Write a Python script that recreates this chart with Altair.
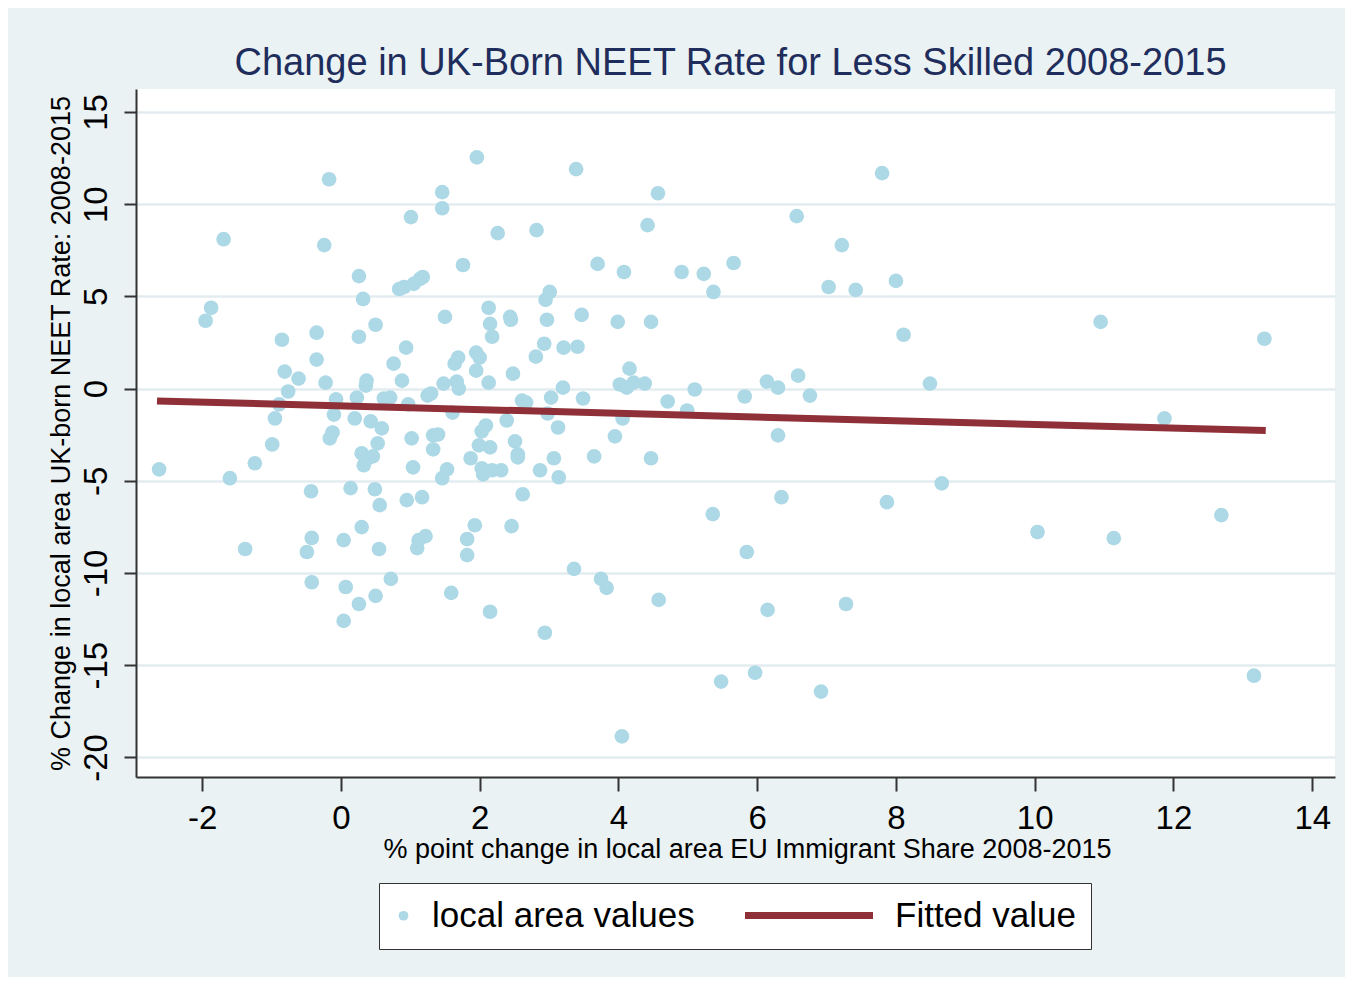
import altair as alt
import pandas as pd

# ---- data ----
x_vals = [
    -2.62, -1.95, -1.87, -1.69, -1.60, -1.38, -1.24, -0.99, -0.95, -0.89,
    -0.85, -0.81, -0.76, -0.61, -0.49, -0.43, -0.42, -0.42, -0.35, -0.35,
    -0.24, -0.22, -0.17, -0.16, -0.12, -0.10, -0.07, 0.04, 0.04, 0.07,
    0.14, 0.20, 0.23, 0.26, 0.26, 0.26, 0.30, 0.30, 0.32, 0.33,
    0.36, 0.37, 0.39, 0.43, 0.46, 0.49, 0.50, 0.50, 0.53, 0.55,
    0.56, 0.59, 0.62, 0.71, 0.72, 0.76, 0.84, 0.88, 0.91, 0.94,
    0.95, 0.97, 1.01, 1.02, 1.04, 1.05, 1.10, 1.12, 1.14, 1.17,
    1.18, 1.22, 1.25, 1.30, 1.33, 1.33, 1.40, 1.46, 1.46, 1.46,
    1.48, 1.50, 1.53, 1.59, 1.61, 1.64, 1.67, 1.69, 1.70, 1.76,
    1.82, 1.82, 1.87, 1.93, 1.95, 1.95, 1.96, 1.99, 2.00, 2.03,
    2.03, 2.05, 2.09, 2.13, 2.13, 2.15, 2.15, 2.18, 2.15, 2.18,
    2.26, 2.31, 2.39, 2.44, 2.45, 2.46, 2.48, 2.51, 2.55, 2.55,
    2.61, 2.62, 2.67, 2.82, 2.81, 2.87, 2.93, 2.94, 2.95, 2.97,
    2.98, 3.01, 3.03, 3.07, 3.13, 3.14, 3.20, 3.21, 3.36, 3.39,
    3.41, 3.47, 3.49, 3.65, 3.70, 3.75, 3.83, 3.95, 3.99, 4.02,
    4.05, 4.06, 4.08, 4.12, 4.16, 4.22, 4.38, 4.42, 4.47, 4.47,
    4.57, 4.58, 4.71, 4.91, 4.99, 5.10, 5.23, 5.36, 5.37, 5.48,
    5.66, 5.82, 5.85, 5.97, 6.14, 6.15, 6.30, 6.30, 6.35, 6.57,
    6.59, 6.76, 6.92, 7.03, 7.22, 7.28, 7.42, 7.80, 7.87, 8.00,
    8.11, 8.49, 8.66, 10.04, 10.95, 11.14, 11.87, 12.69, 13.16, 13.31,
]
y_vals = [
    -4.38, 3.68, 4.38, 8.10, -4.86, -8.70, -4.05, -3.03, -1.62, -0.86,
    2.65, 0.92, -0.16, 0.54, -8.86, -5.57, -8.10, -10.50, 3.03, 1.57,
    7.78, 0.32, 11.35, -2.70, -2.38, -1.41, -0.59, -8.22, -12.60, -10.76,
    -5.40, -1.62, -0.49, 6.10, 2.81, -11.68, -7.51, -3.51, 4.86, -4.16,
    0.16, 0.43, -3.78, -1.78, -3.68, -5.46, 3.46, -11.24, -2.97, -8.70,
    -6.32, -2.16, -0.54, -0.49, -10.32, 1.35, 5.40, 0.43, 5.51, 2.22,
    -6.05, -0.86, 9.30, -2.70, -4.27, 5.68, -8.65, -8.22, 5.95, -5.89,
    6.05, -8.00, -0.38, -0.27, -2.54, -3.30, -2.49, -4.86, 10.65, 9.78,
    0.27, 3.89, -4.38, -11.08, -1.30, 1.35, 0.38, 1.68, 0.00, 6.70,
    -8.16, -9.03, -3.78, -7.41, 0.97, 1.95, 12.54, -3.08, 1.68, -2.32,
    -4.32, -4.65, -2.00, 4.38, 0.32, -12.10, 3.51, 2.81, -3.19, -4.43,
    8.43, -4.43, -1.73, 3.89, 3.73, -7.46, 0.81, -2.86, -3.57, -3.73,
    -0.65, -5.73, -0.76, 8.59, 1.73, -4.43, 2.43, -13.24, 4.81, 3.73,
    -1.35, 5.24, -0.49, -3.78, -2.11, -4.81, 0.05, 2.22, -9.78, 11.90,
    2.27, 4.00, -0.54, -3.68, 6.76, -10.32, -10.81, -2.59, 3.62, 0.22,
    -18.86, -1.62, 6.32, 0.05, 1.08, 0.32, 0.27, 8.86, 3.62, -3.78,
    10.59, -11.46, -0.70, 6.32, -1.19, -0.05, 6.22, -6.81, 5.24, -15.89,
    6.81, -0.43, -8.86, -15.41, 0.38, -12.00, 0.05, -2.54, -5.89, 9.35,
    0.70, -0.38, -16.43, 5.51, 7.78, -11.68, 5.35, 11.68, -6.16, 5.84,
    2.92, 0.27, -5.14, -7.78, 3.62, -8.11, -1.62, -6.86, -15.57, 2.70,
]
fit_x = [-2.65, 13.33]
fit_y = [-0.67, -2.28]

x_ticks = [-2, 0, 2, 4, 6, 8, 10, 12, 14]
y_ticks = [-20, -15, -10, -5, 0, 5, 10, 15]

series_points = "local area values"
series_fit = "Fitted value"

title_text = "Change in UK-Born NEET Rate for Less Skilled 2008-2015"
x_title = "% point change in local area EU Immigrant Share 2008-2015"
y_title = "% Change in local area UK-born NEET Rate: 2008-2015"

pts = pd.DataFrame({"x": x_vals, "y": y_vals, "series": series_points})
fit = pd.DataFrame({"x": fit_x, "y": fit_y, "series": series_fit})

FONT = "Liberation Sans"
PLAIN = "datum.value + ''"

xscale = alt.Scale(domain=[-2.953, 14.328], nice=False, zero=False)
yscale = alt.Scale(domain=[-21.063, 16.245], nice=False, zero=False)

x_axis = alt.Axis(
    values=x_ticks, title=x_title, grid=False, tickSize=14, labelExpr=PLAIN,
    labelFontSize=33, labelPadding=11, titleFontSize=27, titlePadding=1,
    labelFlush=False, labelOverlap=False, titleX=611,
)
y_axis = alt.Axis(
    values=y_ticks, title=y_title, grid=True, gridColor="#E3EDF0", gridWidth=2.5,
    tickSize=12, labelAngle=270, labelFontSize=33, labelPadding=11,
    labelExpr=PLAIN, titleFontSize=27, titlePadding=5,
    labelFlush=False, labelOverlap=False,
)

# one framed legend holding both entries (the second entry's own symbol is
# transparent; the line symbol comes from the fitted-line legend below)
legend_points = alt.Legend(
    title=None, orient="none", legendX=243, legendY=794, padding=15,
    columns=2, columnPadding=162,
    strokeColor="#333333", fillColor="#FFFFFF",
    symbolType="circle", symbolSize=95, symbolOffset=-8, symbolStrokeWidth=0,
    labelOffset=11, labelFontSize=35, labelFont=FONT, labelColor="#000000",
    labelLimit=1000,
)
legend_fit = alt.Legend(
    title=None, orient="none", legendX=605.5, legendY=759, padding=0,
    symbolType="stroke", symbolSize=16384, symbolStrokeWidth=7,
    labelExpr="''", labelFontSize=35, labelFont=FONT,
    labelLimit=1000, zindex=2,
)

points = alt.Chart(pts).mark_circle(size=215, opacity=1).encode(
    x=alt.X("x:Q", scale=xscale, axis=x_axis),
    y=alt.Y("y:Q", scale=yscale, axis=y_axis),
    color=alt.Color("series:N",
                    scale=alt.Scale(domain=[series_points, series_fit],
                                    range=["#ADD8E6", "transparent"]),
                    legend=legend_points),
)

line = alt.Chart(fit).mark_line(strokeWidth=7).encode(
    x=alt.X("x:Q", scale=xscale),
    y=alt.Y("y:Q", scale=yscale),
    color=alt.Color("series:N",
                    scale=alt.Scale(domain=[series_fit], range=["#8F3039"]),
                    legend=legend_fit),
)

chart = alt.layer(points, line).resolve_scale(color="independent").properties(
    width=1199,
    height=688,
    background="#EAF2F3",
    autosize=alt.AutoSizeParams(type="none"),
    padding={"left": 128, "top": 81, "right": 10, "bottom": 200},
    title=alt.TitleParams(
        text=title_text, fontSize=38, font=FONT, color="#1F2D5C",
        fontWeight="normal", anchor="middle", offset=6, dx=-5,
    ),
).configure_view(
    fill="#FFFFFF", strokeWidth=0,
).configure_axis(
    domainColor="#333333", domainWidth=2, tickColor="#333333", tickWidth=2,
    labelFont=FONT, titleFont=FONT, labelColor="#000000", titleColor="#000000",
    titleFontWeight="normal",
)

chart.save("out.html", embed_options={"renderer": "svg", "actions": False})
